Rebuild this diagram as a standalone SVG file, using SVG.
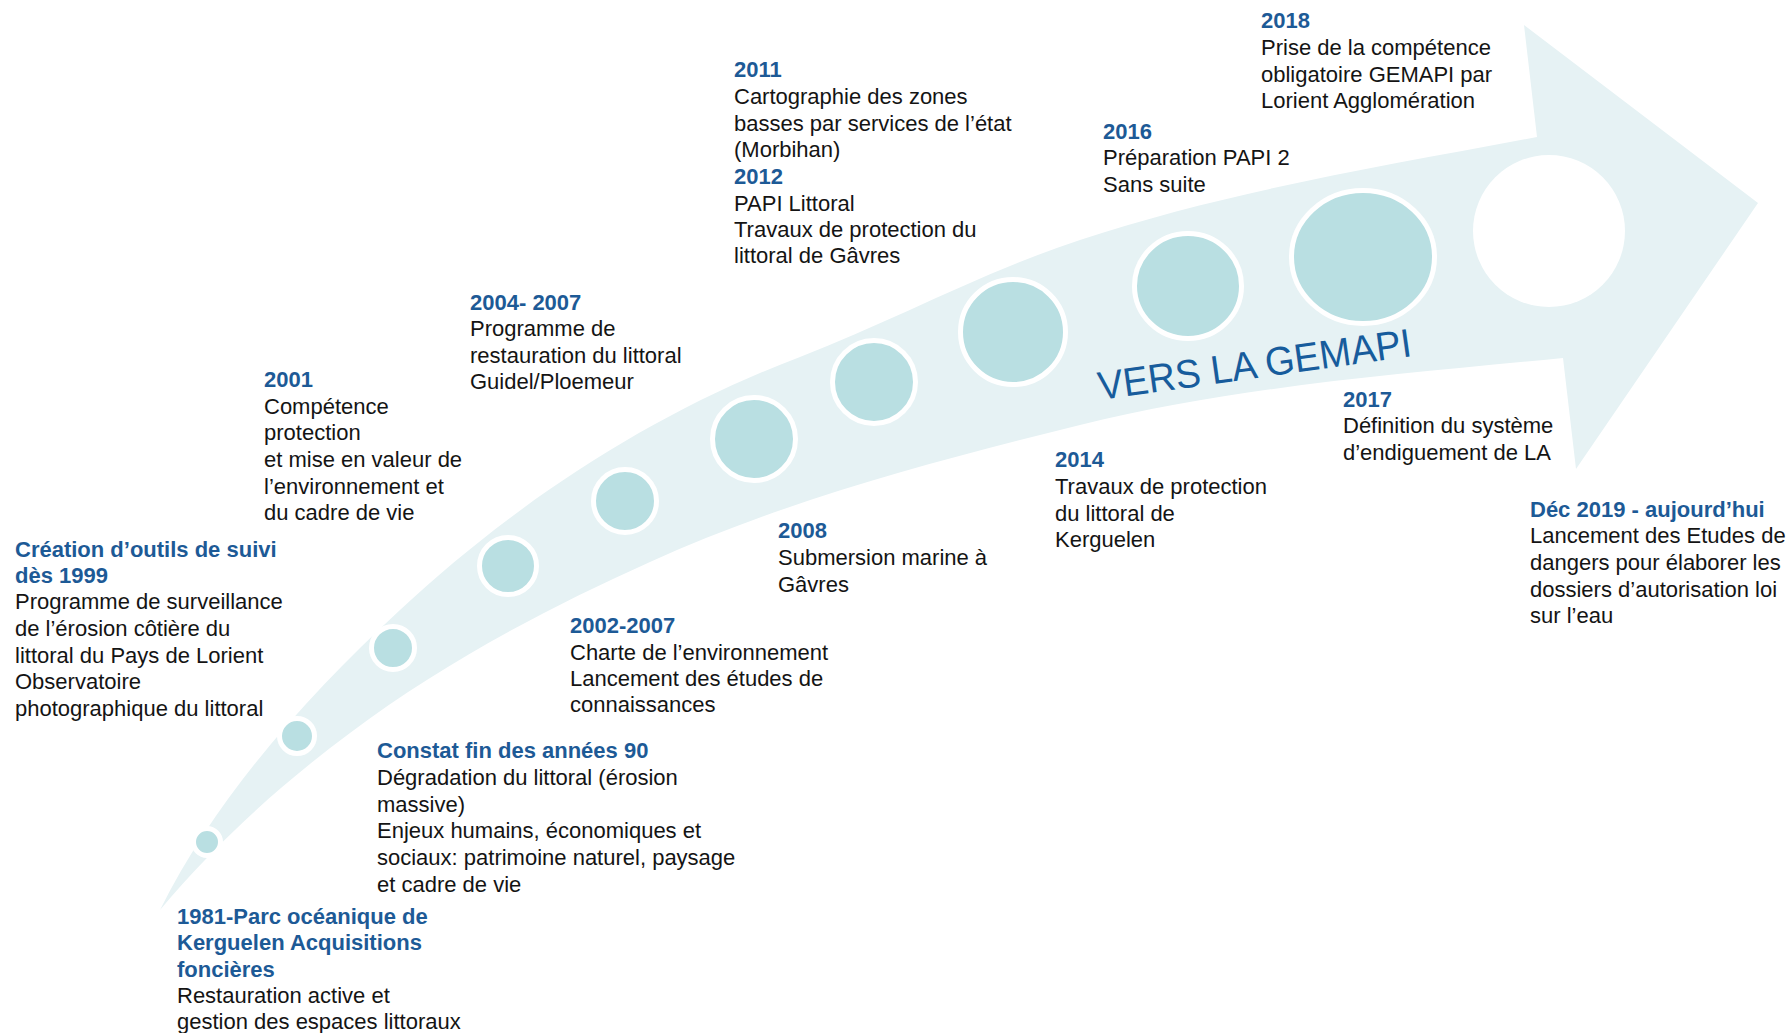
<svg xmlns="http://www.w3.org/2000/svg" width="1790" height="1033" viewBox="0 0 1790 1033">
<style>
.h{font-family:"Liberation Sans",Arial,sans-serif;font-size:22px;font-weight:bold;fill:#1D5A96}
.b{font-family:"Liberation Sans",Arial,sans-serif;font-size:22px;fill:#141414}
.dot{fill:#B9DFE2;stroke:#FFFFFF;stroke-width:5}
.title{font-family:"Liberation Sans",Arial,sans-serif;font-size:40px;fill:#175C9C}
</style>
<rect width="1790" height="1033" fill="#FFFFFF"/>
<g id="arrow-band">
<path d="M160,910 C217,796 306,697 400,610 C516,502 652,413 800,357 C893,321 985,271 1080,240 C1228,191 1384,166 1537,137 L1524,25 L1758,203 L1576,469 L1563,358 C1401,374 1238,386 1080,425 C934,461 787,500 650,562 C545,609 442,664 350,733 C280,785 216,843 160,910 Z" fill="#E6F2F4"/>
</g>
<g id="milestones">
<circle class="dot" cx="207" cy="842" r="13.5"/>
<circle class="dot" cx="297" cy="736" r="17.5"/>
<circle class="dot" cx="393" cy="648" r="21.5"/>
<circle class="dot" cx="508" cy="566" r="28.5"/>
<circle class="dot" cx="625" cy="501" r="31.5"/>
<circle class="dot" cx="754" cy="439" r="41.5"/>
<circle class="dot" cx="874" cy="382" r="41.5"/>
<circle class="dot" cx="1013" cy="332" r="52.5"/>
<ellipse class="dot" cx="1188" cy="286" rx="53.5" ry="52.5"/>
<ellipse class="dot" cx="1363" cy="257" rx="71.5" ry="66.5"/>
<circle cx="1549" cy="231" r="76" fill="#FFFFFF"/>
</g>
<g id="title">
<text class="title" transform="translate(1100,400) rotate(-8)" textLength="316" lengthAdjust="spacingAndGlyphs">VERS LA GEMAPI</text>
</g>
<g id="ev-1981">
<text class="h" x="177" y="924">1981-Parc océanique de</text>
<text class="h" x="177" y="950">Kerguelen Acquisitions</text>
<text class="h" x="177" y="977">foncières</text>
<text class="b" x="177" y="1003">Restauration active et</text>
<text class="b" x="177" y="1029">gestion des espaces littoraux</text>
</g>
<g id="ev-1999">
<text class="h" x="15" y="557">Création d’outils de suivi</text>
<text class="h" x="15" y="583">dès 1999</text>
<text class="b" x="15" y="609">Programme de surveillance</text>
<text class="b" x="15" y="636">de l’érosion côtière du</text>
<text class="b" x="15" y="663">littoral du Pays de Lorient</text>
<text class="b" x="15" y="689">Observatoire</text>
<text class="b" x="15" y="716">photographique du littoral</text>
</g>
<g id="ev-constat">
<text class="h" x="377" y="758">Constat fin des années 90</text>
<text class="b" x="377" y="785">Dégradation du littoral (érosion</text>
<text class="b" x="377" y="812">massive)</text>
<text class="b" x="377" y="838">Enjeux humains, économiques et</text>
<text class="b" x="377" y="865">sociaux: patrimoine naturel, paysage</text>
<text class="b" x="377" y="892">et cadre de vie</text>
</g>
<g id="ev-2001">
<text class="h" x="264" y="387">2001</text>
<text class="b" x="264" y="414">Compétence</text>
<text class="b" x="264" y="440">protection</text>
<text class="b" x="264" y="467">et mise en valeur de</text>
<text class="b" x="264" y="494">l’environnement et</text>
<text class="b" x="264" y="520">du cadre de vie</text>
</g>
<g id="ev-2002">
<text class="h" x="570" y="633">2002-2007</text>
<text class="b" x="570" y="660">Charte de l’environnement</text>
<text class="b" x="570" y="686">Lancement des études de</text>
<text class="b" x="570" y="712">connaissances</text>
</g>
<g id="ev-2004">
<text class="h" x="470" y="310">2004- 2007</text>
<text class="b" x="470" y="336">Programme de</text>
<text class="b" x="470" y="363">restauration du littoral</text>
<text class="b" x="470" y="389">Guidel/Ploemeur</text>
</g>
<g id="ev-2008">
<text class="h" x="778" y="538">2008</text>
<text class="b" x="778" y="565">Submersion marine à</text>
<text class="b" x="778" y="592">Gâvres</text>
</g>
<g id="ev-2011">
<text class="h" x="734" y="77">2011</text>
<text class="b" x="734" y="104">Cartographie des zones</text>
<text class="b" x="734" y="131">basses par services de l’état</text>
<text class="b" x="734" y="157">(Morbihan)</text>
<text class="h" x="734" y="184">2012</text>
<text class="b" x="734" y="211">PAPI Littoral</text>
<text class="b" x="734" y="237">Travaux de protection du</text>
<text class="b" x="734" y="263">littoral de Gâvres</text>
</g>
<g id="ev-2014">
<text class="h" x="1055" y="467">2014</text>
<text class="b" x="1055" y="494">Travaux de protection</text>
<text class="b" x="1055" y="521">du littoral de</text>
<text class="b" x="1055" y="547">Kerguelen</text>
</g>
<g id="ev-2016">
<text class="h" x="1103" y="139">2016</text>
<text class="b" x="1103" y="165">Préparation PAPI 2</text>
<text class="b" x="1103" y="192">Sans suite</text>
</g>
<g id="ev-2017">
<text class="h" x="1343" y="407">2017</text>
<text class="b" x="1343" y="433">Définition du système</text>
<text class="b" x="1343" y="460">d’endiguement de LA</text>
</g>
<g id="ev-2018">
<text class="h" x="1261" y="28">2018</text>
<text class="b" x="1261" y="55">Prise de la compétence</text>
<text class="b" x="1261" y="82">obligatoire GEMAPI par</text>
<text class="b" x="1261" y="108">Lorient Agglomération</text>
</g>
<g id="ev-2019">
<text class="h" x="1530" y="517">Déc 2019 - aujourd’hui</text>
<text class="b" x="1530" y="543">Lancement des Etudes de</text>
<text class="b" x="1530" y="570">dangers pour élaborer les</text>
<text class="b" x="1530" y="597">dossiers d’autorisation loi</text>
<text class="b" x="1530" y="623">sur l’eau</text>
</g>
</svg>
